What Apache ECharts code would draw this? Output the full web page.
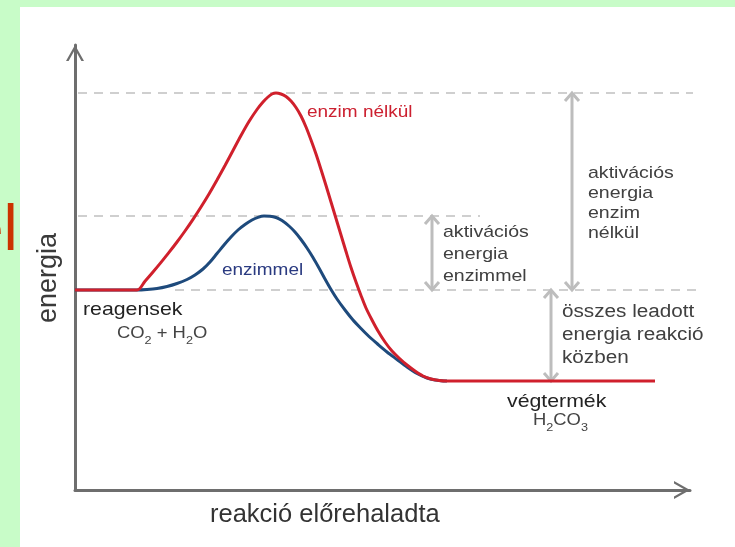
<!DOCTYPE html>
<html><head><meta charset="utf-8">
<script src="https://cdn.jsdelivr.net/npm/echarts@6/dist/echarts.min.js"></script>
<style>
html,body{margin:0;padding:0;background:#c8fcc8;overflow:hidden}
#bg{position:absolute;left:20px;top:7px;width:715px;height:540px;background:#ffffff}
#c{position:absolute;left:0;top:0;width:735px;height:547px}
</style>
</head><body><div id="bg"></div><div id="c"></div>
<script>
// Curve without enzyme (red): reaction progress vs energy
const redX = [0, 62, 70, 78, 86, 94, 102, 110, 118, 126, 134, 142, 150, 158, 166, 174, 182, 188, 193, 197, 201, 206, 211, 216, 221, 226, 231, 236, 241, 246, 251, 256, 261, 266, 271, 276, 281, 286, 291, 297, 303, 310, 317, 324, 332, 340, 348, 356, 364, 372, 580];
const redY = [200, 200, 208.8, 218, 227.6, 237.6, 248, 259, 270.7, 283, 296, 310, 324.5, 339.5, 354.5, 368.5, 380.5, 388, 393, 396, 397, 396, 393.5, 389, 382.5, 374, 363, 350, 336, 320.5, 304.5, 288, 271.5, 255, 238.5, 222.5, 208, 194.5, 182, 170, 159, 148, 139, 132, 125, 119, 114, 111, 109.5, 109, 109];
// Curve with enzyme (blue)
const blueX = [0, 62, 72, 82, 92, 102, 112, 120, 128, 135, 142, 149, 156, 163, 170, 177, 183, 189, 195, 201, 207, 214, 220, 226, 232, 238, 244, 250, 256, 262, 270, 278, 286, 294, 302, 312, 322, 332, 342, 352, 360, 366, 372];
const blueY = [200, 200, 200.5, 201.5, 203.5, 206.5, 210.5, 215, 221, 228, 236.5, 245, 253, 260, 265.5, 270, 272.7, 274, 273.8, 272.5, 269.5, 264, 258, 250.5, 242, 232.5, 222, 211, 200.5, 191, 180, 170, 161.5, 153.5, 146.5, 138, 130.5, 123, 116.5, 112, 110, 109.3, 109];
// Dashed reference levels
const dashLevel = [397, 274, 200];
const dashFrom = [3, 3, 100];
const dashTo = [618, 405, 622];
// Double-headed energy arrows
const arrowX = [357, 497, 476];
const arrowFrom = [274, 397, 200];
const arrowTo = [200, 200, 109];

const FF = '"Liberation Sans", Arial, sans-serif';
const chart = echarts.init(document.getElementById('c'), null, {renderer: 'canvas'});

const chevron = 'path://M0,16 L9,0 L18,16 L15.4,16 L9,4.6 L2.6,16 Z';
const axisCommon = {
  axisLine: {show: true, lineStyle: {color: '#6e6e6e', width: 3}, symbol: ['none', chevron], symbolSize: [18, 16], symbolOffset: [0, -8]},
  axisTick: {show: false}, axisLabel: {show: false}, splitLine: {show: false}
};

function txt(x, y, text, size, opts) {
  opts = opts || {};
  return {
    type: 'text', x: x, y: y, z: 100, scaleX: opts.scaleX || 1, rotation: opts.rotation || 0,
    style: {
      text: text, fontSize: size, fontFamily: FF, fill: opts.color || '#404040',
      lineHeight: opts.lineHeight, align: opts.align || 'left', textAlign: opts.align || 'left',
      verticalAlign: opts.va || 'middle', textVerticalAlign: opts.va || 'middle', rich: opts.rich
    }
  };
}
const subRich = {
  n: {fontSize: 16, fontFamily: FF, fill: '#444', lineHeight: 17, verticalAlign: 'top'},
  s: {fontSize: 11, fontFamily: FF, fill: '#444', lineHeight: 11, padding: [9, 0, 0, 0], verticalAlign: 'top'}
};

const option = {
  animation: false,
  backgroundColor: 'transparent',
  grid: {left: 75, top: 45, width: 615, height: 445},
  xAxis: Object.assign({type: 'value', min: 0, max: 615}, axisCommon),
  yAxis: Object.assign({type: 'value', min: 0, max: 445}, axisCommon),
  series: [
    {
      type: 'custom', z: 1, clip: false,
      data: dashLevel.map((y, i) => [dashFrom[i], dashTo[i], y]),
      renderItem: function (params, api) {
        const a = api.coord([api.value(0), api.value(2)]);
        const b = api.coord([api.value(1), api.value(2)]);
        return {type: 'line', shape: {x1: a[0], y1: a[1], x2: b[0], y2: b[1]},
          style: {stroke: '#cfcfcf', lineWidth: 2, lineDash: [9, 7]}};
      }
    },
    {
      type: 'custom', z: 3, clip: false,
      data: arrowX.map((x, i) => [x, arrowFrom[i], arrowTo[i]]),
      renderItem: function (params, api) {
        const p0 = api.coord([api.value(0), api.value(1)]);
        const p1 = api.coord([api.value(0), api.value(2)]);
        const dx = p0[0] - p1[0], dy = p0[1] - p1[1];
        const L = Math.sqrt(dx * dx + dy * dy) || 1;
        const ux = dx / L, uy = dy / L, nx = -uy, ny = ux;
        const h = 8, w = 7;
        const st = {stroke: '#bdbdbd', lineWidth: 3, fill: 'none'};
        return {type: 'group', children: [
          {type: 'line', shape: {x1: p0[0], y1: p0[1], x2: p1[0], y2: p1[1]}, style: st},
          {type: 'polyline', shape: {points: [[p0[0] - ux * h + nx * w, p0[1] - uy * h + ny * w], p0, [p0[0] - ux * h - nx * w, p0[1] - uy * h - ny * w]]}, style: st},
          {type: 'polyline', shape: {points: [[p1[0] + ux * h + nx * w, p1[1] + uy * h + ny * w], p1, [p1[0] + ux * h - nx * w, p1[1] + uy * h - ny * w]]}, style: st}
        ]};
      }
    },
    {
      type: 'line', name: 'enzimmel', smooth: 0.3, symbol: 'none', z: 4,
      lineStyle: {color: '#1e4a7c', width: 3},
      data: blueX.map((x, i) => [x, blueY[i]])
    },
    {
      type: 'line', name: 'enzim nélkül', smooth: 0.3, symbol: 'none', z: 5,
      lineStyle: {color: '#d0202c', width: 3},
      data: redX.map((x, i) => [x, redY[i]])
    }
  ],
  graphic: [
    txt(-32, 232, 'el', 64, {color: '#cc3300'}),
    txt(49, 278, 'energia', 27, {color: '#3a3a3a', align: 'center', rotation: Math.PI / 2}),
    txt(210, 515, 'reakció előrehaladta', 25.5, {color: '#333333'}),
    txt(307, 112, 'enzim nélkül', 16.5, {color: '#cc2030', scaleX: 1.15}),
    txt(222, 270, 'enzimmel', 16.5, {color: '#2a3a80', scaleX: 1.15}),
    txt(83, 310, 'reagensek', 18.5, {color: '#222222', scaleX: 1.15}),
    txt(117, 326, '{n|CO}{s|2}{n| + H}{s|2}{n|O}', 16, {scaleX: 1.15, va: 'top', rich: subRich}),
    txt(507, 402, 'végtermék', 18.5, {color: '#222222', scaleX: 1.15}),
    txt(533, 413, '{n|H}{s|2}{n|CO}{s|3}', 16, {scaleX: 1.15, va: 'top', rich: subRich}),
    txt(443, 221, 'aktivációs\nenergia\nenzimmel', 17, {scaleX: 1.15, va: 'top', lineHeight: 22}),
    txt(588, 163, 'aktivációs\nenergia\nenzim\nnélkül', 17, {scaleX: 1.15, va: 'top', lineHeight: 20}),
    txt(562, 300.5, 'összes leadott\nenergia reakció\nközben', 18, {scaleX: 1.15, va: 'top', lineHeight: 23})
  ]
};
chart.setOption(option);
</script></body></html>
